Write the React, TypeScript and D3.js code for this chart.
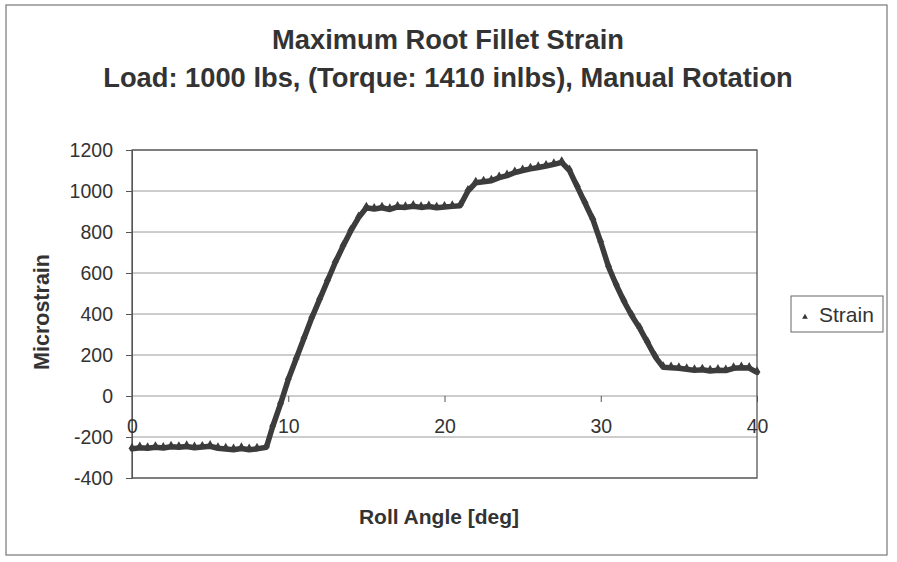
import * as d3 from "d3";
import { useEffect, useRef } from "react";

const angles = [
  0, 0.5, 1, 1.5, 2, 2.5, 3, 3.5, 4, 4.5, 5, 5.5, 6, 6.5, 7, 7.5, 8, 8.6, 9, 9.5,
  10, 10.5, 11, 11.5, 12, 12.5, 13, 13.5, 14, 14.5, 15, 15.5, 16, 16.5, 17, 17.5,
  18, 18.5, 19, 19.5, 20, 20.5, 21, 21.5, 22, 22.5, 23, 23.5, 24, 24.5, 25, 25.5,
  26, 26.5, 27, 27.5, 28, 28.5, 29, 29.5, 30, 30.5, 31, 31.5, 32, 32.5, 33, 33.5,
  34, 34.5, 35, 35.5, 36, 36.5, 37, 37.5, 38, 38.5, 39, 39.5, 40,
];

const strain = [
  -258, -252, -255, -250, -254, -248, -250, -246, -252, -249, -245, -255, -258,
  -262, -256, -262, -258, -250, -150, -40, 80, 180, 280, 380, 470, 560, 650, 730,
  805, 870, 918, 912, 918, 910, 922, 920, 926, 920, 924, 918, 922, 925, 928, 1000,
  1040, 1045, 1050, 1065, 1075, 1090, 1100, 1108, 1115, 1122, 1130, 1140, 1100,
  1020, 940, 860, 750, 630, 540, 460, 390, 330, 260, 190, 140, 138, 135, 130, 125,
  128, 122, 126, 124, 135, 138, 136, 115,
];

const yTicks = [-400, -200, 0, 200, 400, 600, 800, 1000, 1200];
const xTicks = [0, 10, 20, 30, 40];
const titleLines = [
  "Maximum Root Fillet Strain",
  "Load: 1000 lbs, (Torque: 1410 inlbs), Manual Rotation",
];

const FONT = "'Liberation Sans', Arial, sans-serif";
const INK = "#333";

export default function App() {
  const svgRef = useRef<SVGSVGElement>(null);
  const width = 897;
  const height = 562;

  useEffect(() => {
    if (!svgRef.current) return;
    const svg = d3.select(svgRef.current);
    svg.selectAll("*").remove();

    // plot area bounds
    const left = 132;
    const right = 757;
    const top = 150;
    const bottom = 478;

    const x = d3.scaleLinear().domain([0, 40]).range([left, right]);
    const y = d3.scaleLinear().domain([-400, 1200]).range([bottom, top]);

    svg.append("rect").attr("width", width).attr("height", height).attr("fill", "#fff");

    // outer chart border
    svg
      .append("rect")
      .attr("x", 6)
      .attr("y", 5)
      .attr("width", 881)
      .attr("height", 550)
      .attr("fill", "none")
      .attr("stroke", "#777")
      .attr("stroke-width", 1.2);

    // titles
    titleLines.forEach((t, i) => {
      svg
        .append("text")
        .attr("x", 448)
        .attr("y", 49 + i * 38)
        .attr("text-anchor", "middle")
        .attr("font-family", FONT)
        .attr("font-weight", "bold")
        .attr("font-size", 27.3)
        .attr("fill", INK)
        .text(t);
    });

    // gridlines
    svg
      .append("g")
      .selectAll("line")
      .data(yTicks)
      .join("line")
      .attr("x1", left)
      .attr("x2", right)
      .attr("y1", (d) => y(d))
      .attr("y2", (d) => y(d))
      .attr("stroke", "#9a9a9a")
      .attr("stroke-width", 1);

    // plot border
    svg
      .append("rect")
      .attr("x", left)
      .attr("y", top)
      .attr("width", right - left)
      .attr("height", bottom - top)
      .attr("fill", "none")
      .attr("stroke", "#555")
      .attr("stroke-width", 1.3);

    // y axis
    const yAxis = svg
      .append("g")
      .attr("transform", `translate(${left},0)`)
      .call(d3.axisLeft(y).tickValues(yTicks).tickSize(6).tickPadding(13).tickFormat((d) => String(d)));
    yAxis.select(".domain").attr("stroke", "#555");
    yAxis.selectAll(".tick line").attr("stroke", "#555");
    yAxis
      .selectAll("text")
      .attr("font-family", FONT)
      .attr("font-size", 19.5)
      .attr("fill", INK);

    // x axis crossing at zero
    const xAxis = svg
      .append("g")
      .attr("transform", `translate(0,${y(0)})`)
      .call(d3.axisBottom(x).tickValues(xTicks).tickSize(6).tickPadding(17).tickFormat((d) => String(d)));
    xAxis.select(".domain").remove();
    xAxis.selectAll(".tick line").attr("stroke", "#555");
    xAxis
      .selectAll("text")
      .attr("font-family", FONT)
      .attr("font-size", 19.5)
      .attr("fill", INK);

    // axis titles
    svg
      .append("text")
      .attr("transform", `translate(49,312) rotate(-90)`)
      .attr("text-anchor", "middle")
      .attr("font-family", FONT)
      .attr("font-weight", "bold")
      .attr("font-size", 21.5)
      .attr("fill", INK)
      .text("Microstrain");

    svg
      .append("text")
      .attr("x", 439)
      .attr("y", 524)
      .attr("text-anchor", "middle")
      .attr("font-family", FONT)
      .attr("font-weight", "bold")
      .attr("font-size", 21)
      .attr("fill", INK)
      .text("Roll Angle [deg]");

    // strain series
    const points = angles.map((a, i) => [a, strain[i]] as [number, number]);
    const line = d3
      .line<[number, number]>()
      .x((d) => x(d[0]))
      .y((d) => y(d[1]));

    svg
      .append("path")
      .datum(points)
      .attr("d", line)
      .attr("fill", "none")
      .attr("stroke", "#3c3c3c")
      .attr("stroke-width", 5.5)
      .attr("stroke-linejoin", "round")
      .attr("stroke-linecap", "round");

    const tri = d3.symbol().type(d3.symbolTriangle).size(22);
    svg
      .append("g")
      .selectAll("path")
      .data(points)
      .join("path")
      .attr("d", tri)
      .attr("transform", (d) => `translate(${x(d[0])},${y(d[1]) - 2})`)
      .attr("fill", "#3c3c3c");

    // legend
    const lg = svg.append("g").attr("transform", "translate(791,296)");
    lg.append("rect")
      .attr("width", 92)
      .attr("height", 36)
      .attr("fill", "#fff")
      .attr("stroke", "#666")
      .attr("stroke-width", 1);
    lg.append("path")
      .attr("d", d3.symbol().type(d3.symbolTriangle).size(14))
      .attr("transform", "translate(14,21)")
      .attr("fill", "#333");
    lg.append("text")
      .attr("x", 28)
      .attr("y", 26)
      .attr("font-family", FONT)
      .attr("font-size", 21)
      .attr("fill", INK)
      .text("Strain");
  }, []);

  return (
    <svg
      ref={svgRef}
      width={width}
      height={height}
      style={{ position: "absolute", left: 0, top: 0, display: "block" }}
    />
  );
}
